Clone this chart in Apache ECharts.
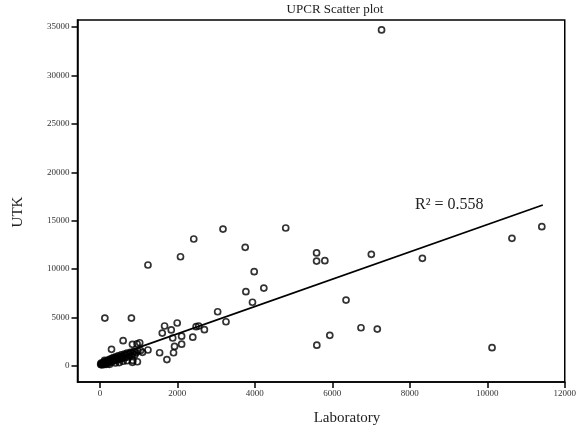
<!DOCTYPE html>
<html><head><meta charset="utf-8">
<script src="https://cdn.jsdelivr.net/npm/echarts@6/dist/echarts.min.js"></script>
<style>html,body{margin:0;padding:0;background:#fff}#c{width:579px;height:427px}</style>
</head><body><div id="c"></div>
<script>
// Laboratory (x) and UTK (y) values
const laboratory = [
  7271, 11408, 10637, 10123, 8325, 7007, 5594, 5594, 5807, 6354, 6740, 7161, 5935, 5600,
  4797, 4232, 3178, 3751, 3983, 3769, 3939, 3040, 3255, 2423, 2081, 1241, 128, 814,
  600, 300, 840, 960, 1028, 1241, 1542, 1670, 1610, 1842, 1996, 1880, 1927, 1901, 1730,
  2110, 2110, 2398, 2484, 2551, 2698, 968, 840,
  20, 40, 60, 80, 90, 100, 110, 130, 150, 160, 170, 190, 200, 210, 230, 250, 260, 280,
  300, 310, 330, 350, 370, 390, 410, 430, 450, 470, 500, 520, 550, 570, 600, 630, 650,
  680, 700, 730, 760, 790, 820, 850, 880, 900, 930, 700, 850, 500, 30, 120, 250, 400,
  600, 980, 1050, 1100
];
const utkValues = [
  34700, 14380, 13180, 1890, 11120, 11530, 11670, 10830, 10870, 6810, 3950, 3810, 3170, 2150,
  14250, 8050, 14140, 12250, 9740, 7670, 6580, 5600, 4570, 13110, 11280, 10430, 4950, 4950,
  2610, 1720, 2240, 2290, 2400, 1650, 1370, 4130, 3400, 3720, 4440, 2890, 2020, 1370, 660,
  3080, 2250, 2980, 4060, 4130, 3750, 440, 380,
  170, 120, 260, 310, 140, 400, 210, 350, 490, 260, 170, 420, 580, 310, 470, 680, 380, 540,
  770, 450, 630, 860, 540, 720, 950, 600, 810, 1050, 680, 910, 1140, 770, 1000, 1230, 860,
  1090, 1320, 950, 1180, 1410, 1050, 1280, 1510, 1140, 1370, 540, 580, 350, 310, 580, 170, 310,
  490, 1550, 1600, 1410
];
const xTicks = [0, 2000, 4000, 6000, 8000, 10000, 12000];
const yTicks = [0, 5000, 10000, 15000, 20000, 25000, 30000, 35000];
const trendX = [20, 11434];
const trendY = [530, 16620];
const r2Label = 'R² = 0.558';

const points = laboratory.map((v, i) => [v, utkValues[i]]);
const trend = trendX.map((v, i) => [v, trendY[i]]);
const serif = "'Liberation Serif', 'DejaVu Serif', serif";

const chart = echarts.init(document.getElementById('c'), null, {renderer: 'canvas'});
chart.setOption({
  animation: false,
  backgroundColor: '#fff',
  grid: {left: 77.5, right: 13, top: 20, bottom: 45, show: true, borderColor: '#000', borderWidth: 1.5, backgroundColor: 'transparent'},
  xAxis: {
    type: 'value', min: -578, max: 12000,
    splitLine: {show: false},
    axisLine: {show: true, onZero: false, lineStyle: {color: '#000', width: 1.5}},
    axisTick: {show: true, customValues: xTicks, length: 6, lineStyle: {color: '#000', width: 1.5}},
    axisLabel: {customValues: xTicks, margin: 7, fontFamily: serif, fontSize: 9, color: '#333', formatter: v => String(v)}
  },
  yAxis: {
    type: 'value', min: -1652, max: 35722,
    splitLine: {show: false},
    axisLine: {show: true, onZero: false, lineStyle: {color: '#000', width: 1.5}},
    axisTick: {show: true, customValues: yTicks, length: 6, lineStyle: {color: '#000', width: 1.5}},
    axisLabel: {customValues: yTicks, margin: 8, fontFamily: serif, fontSize: 9, color: '#333', formatter: v => String(v)}
  },
  series: [
    {type: 'line', data: trend, showSymbol: false, symbol: 'none', lineStyle: {color: '#000', width: 1.8}, z: 2},
    {type: 'scatter', data: points, symbol: 'circle', symbolSize: 6,
     itemStyle: {color: 'rgba(0,0,0,0)', borderColor: '#000', borderWidth: 1.7}, z: 3}
  ],
  graphic: [
    {type: 'text', x: 335, y: 10, style: {text: 'UPCR Scatter plot', font: "13px 'Liberation Serif'", fill: '#222', align: 'center', verticalAlign: 'middle'}},
    {type: 'text', x: 347, y: 418, style: {text: 'Laboratory', font: "15px 'Liberation Serif'", fill: '#222', align: 'center', verticalAlign: 'middle'}},
    {type: 'text', x: 18, y: 212, rotation: Math.PI / 2, style: {text: 'UTK', font: "15px 'Liberation Serif'", fill: '#222', align: 'center', verticalAlign: 'middle'}},
    {type: 'text', x: 415, y: 205, style: {text: r2Label, font: "16px 'Liberation Serif'", fill: '#222', align: 'left', verticalAlign: 'middle'}}
  ]
});
</script></body></html>
